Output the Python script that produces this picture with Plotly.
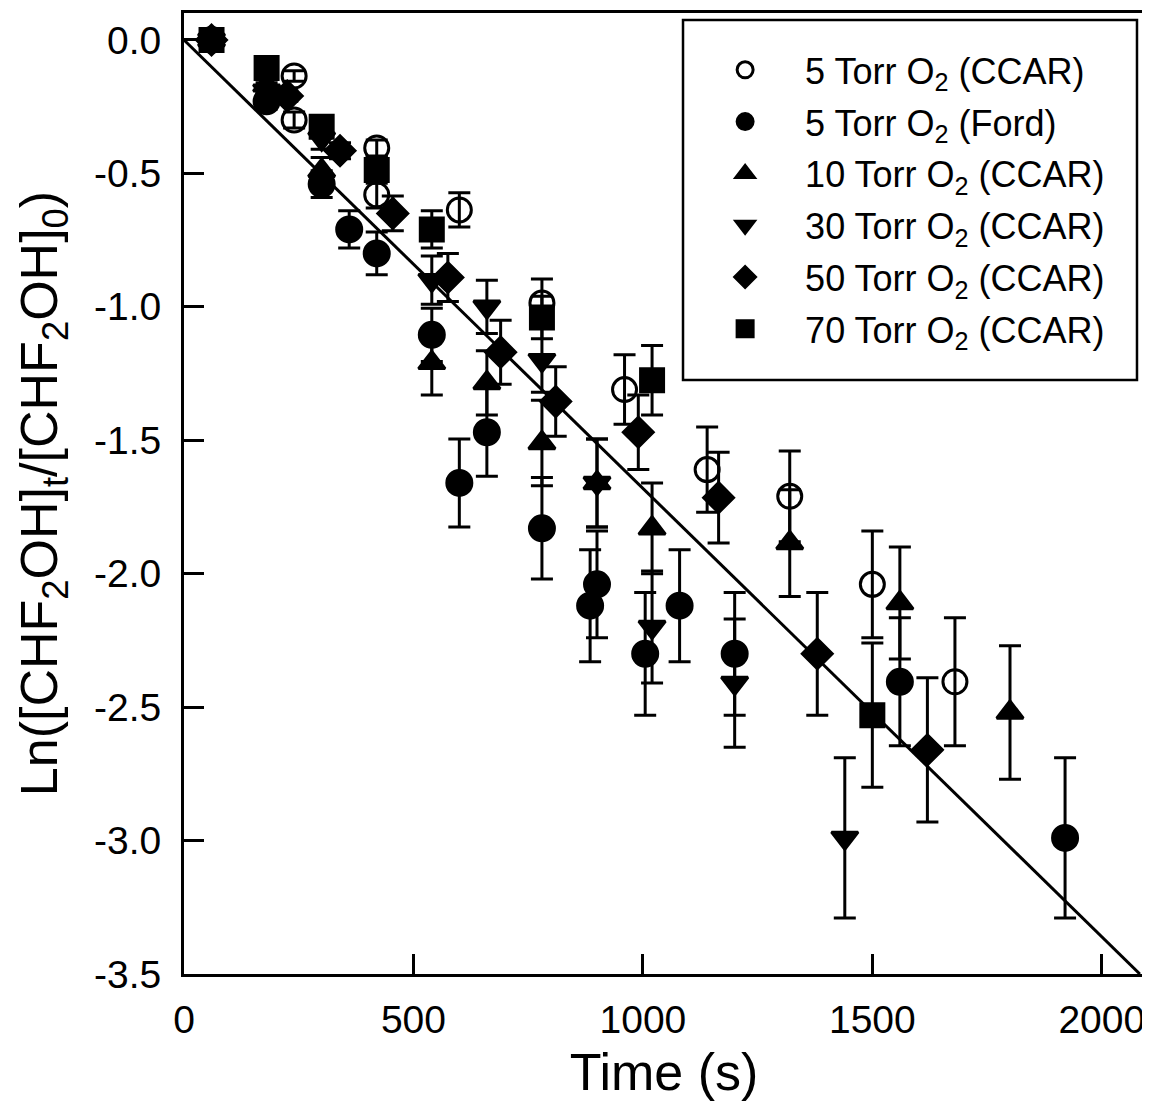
import plotly.graph_objects as go

# ---- data ----
t_ccar5 = [60, 240, 240, 420, 420, 600, 780, 960, 1140, 1320, 1500, 1680]
y_ccar5 = [0, -0.135, -0.30, -0.405, -0.58, -0.637, -0.986, -1.31, -1.61, -1.71, -2.04, -2.405]
e_ccar5 = [0.01, 0.02, 0.03, 0.03, 0.05, 0.064, 0.09, 0.13, 0.16, 0.17, 0.20, 0.24]

t_ford5 = [60, 180, 300, 360, 420, 540, 600, 660, 780, 885, 900, 1005, 1080, 1200, 1560, 1920]
y_ford5 = [0, -0.23, -0.54, -0.71, -0.80, -1.105, -1.66, -1.47, -1.83, -2.12, -2.04, -2.30, -2.12, -2.30, -2.405, -2.99]
e_ford5 = [0.01, 0.03, 0.05, 0.07, 0.08, 0.10, 0.165, 0.165, 0.19, 0.21, 0.20, 0.23, 0.21, 0.23, 0.24, 0.30]

t_ccar10 = [60, 180, 300, 540, 660, 780, 900, 1020, 1320, 1560, 1800]
y_ccar10 = [0, -0.17, -0.49, -1.21, -1.285, -1.51, -1.66, -1.83, -1.885, -2.11, -2.52]
e_ccar10 = [0.01, 0.03, 0.05, 0.12, 0.12, 0.16, 0.165, 0.17, 0.20, 0.21, 0.25]

t_ccar30 = [60, 180, 300, 540, 660, 780, 900, 1020, 1200, 1440]
y_ccar30 = [0, -0.19, -0.37, -0.90, -1.00, -1.20, -1.66, -2.20, -2.41, -2.99]
e_ccar30 = [0.01, 0.03, 0.04, 0.09, 0.10, 0.12, 0.165, 0.21, 0.24, 0.30]

t_ccar50 = [60, 225, 340, 455, 575, 690, 810, 990, 1165, 1380, 1620]
y_ccar50 = [0, -0.21, -0.415, -0.65, -0.89, -1.17, -1.355, -1.47, -1.715, -2.30, -2.66]
e_ccar50 = [0.01, 0.02, 0.03, 0.065, 0.09, 0.12, 0.13, 0.14, 0.17, 0.23, 0.27]

t_ccar70 = [60, 180, 300, 420, 540, 780, 1020, 1500]
y_ccar70 = [0, -0.105, -0.325, -0.487, -0.71, -1.04, -1.275, -2.53]
e_ccar70 = [0.01, 0.02, 0.03, 0.05, 0.07, 0.08, 0.13, 0.27]

fit_t = [0, 2083]
fit_y = [0, -3.5]

series_names = [
    "5 Torr O<sub>2</sub> (CCAR)",
    "5 Torr O<sub>2</sub> (Ford)",
    "10 Torr O<sub>2</sub> (CCAR)",
    "30 Torr O<sub>2</sub> (CCAR)",
    "50 Torr O<sub>2</sub> (CCAR)",
    "70 Torr O<sub>2</sub> (CCAR)",
]

x_ticks = [0, 500, 1000, 1500, 2000]
x_ticktext = ["0", "500", "1000", "1500", "2000"]
y_ticks = [0.0, -0.5, -1.0, -1.5, -2.0, -2.5, -3.0, -3.5]
y_ticktext = ["0.0", "-0.5", "-1.0", "-1.5", "-2.0", "-2.5", "-3.0", "-3.5"]

FONT = "Liberation Sans, Arial, sans-serif"

fig = go.Figure()

fig.add_trace(go.Scatter(x=fit_t, y=fit_y, mode="lines",
                         line=dict(color="black", width=3), showlegend=False,
                         hoverinfo="skip"))

specs = [
    (t_ccar5, y_ccar5, e_ccar5, "circle-open", 24),
    (t_ford5, y_ford5, e_ford5, "circle", 25),
    (t_ccar10, y_ccar10, e_ccar10, "triangle-up", 23),
    (t_ccar30, y_ccar30, e_ccar30, "triangle-down", 23),
    (t_ccar50, y_ccar50, e_ccar50, "diamond", 23),
    (t_ccar70, y_ccar70, e_ccar70, "square", 23),
]

for i, (tx, ty, te, sym, sz) in enumerate(specs):
    fig.add_trace(go.Scatter(
        x=tx, y=ty, mode="markers", name=series_names[i],
        legendgroup=f"g{i}",
        marker=dict(symbol=sym, size=sz, color="black",
                    line=dict(color="black", width=3)),
        error_y=dict(type="data", array=te, visible=True, color="black",
                     thickness=3, width=11),
        cliponaxis=False,
    ))

# page body adds an 8 px offset; figure sized to fill the remaining window
fig.update_layout(
    width=1142, height=1100,
    margin=dict(l=176, r=6, t=5, b=134),
    paper_bgcolor="white", plot_bgcolor="white",
    font=dict(family=FONT, color="black", size=30),
    showlegend=True,
    legend=dict(
        x=0.522, y=0.972, xanchor="left", yanchor="top",
        borderwidth=0, bgcolor="rgba(0,0,0,0)",
        font=dict(family=FONT, size=36, color="black"),
        itemwidth=110, tracegroupgap=2, traceorder="grouped",
    ),
    shapes=[dict(type="rect", xref="paper", yref="paper",
                 x0=0.5198, x1=0.9927, y0=0.6181, y1=0.9927,
                 line=dict(color="black", width=2.5), fillcolor="white",
                 layer="below")],
)

fig.update_xaxes(
    range=[0, 2092], showgrid=False, zeroline=False, automargin=False,
    showline=True, linecolor="black", linewidth=3, mirror=True,
    ticks="inside", ticklen=20, tickwidth=3, tickcolor="black",
    tickvals=x_ticks, ticktext=x_ticktext, ticklabelstandoff=9,
    tickfont=dict(family=FONT, size=39),
    title=dict(text="Time (s)", font=dict(family=FONT, size=52), standoff=14),
)
fig.update_yaxes(
    range=[-3.5, 0.101], showgrid=False, zeroline=False, automargin=False,
    showline=True, linecolor="black", linewidth=3, mirror=True,
    ticks="inside", ticklen=20, tickwidth=3, tickcolor="black",
    tickvals=y_ticks, ticktext=y_ticktext, ticklabelstandoff=12,
    tickfont=dict(family=FONT, size=39),
    title=dict(text="Ln([CHF<sub>2</sub>OH]<sub>t</sub>/[CHF<sub>2</sub>OH]<sub>0</sub>)",
               font=dict(family=FONT, size=52), standoff=20),
)

fig.write_html("out.html")
